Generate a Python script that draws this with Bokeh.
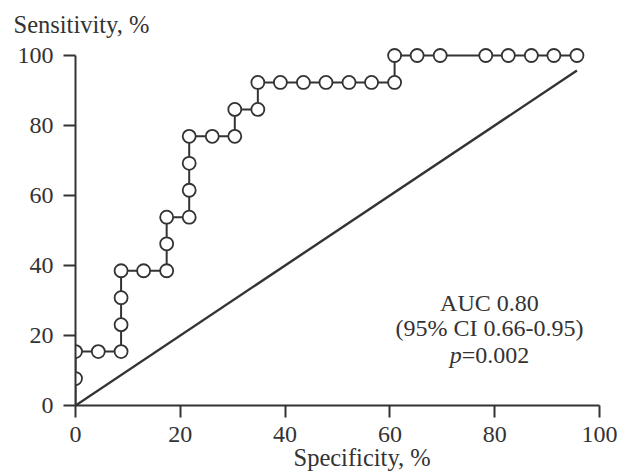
from bokeh.plotting import figure
from bokeh.models import Range1d, FixedTicker, Title
from bokeh.core.properties import value
from bokeh.embed import file_html
from bokeh.resources import INLINE

# ROC curve points (specificity axis, sensitivity)
spec = [0, 0, 0, 4.35, 8.7, 8.7, 8.7, 8.7, 13.0, 17.4, 17.4, 17.4, 21.7, 21.7, 21.7, 21.7,
        26.1, 30.4, 30.4, 34.8, 34.8, 39.1, 43.5, 47.8, 52.2, 56.5, 60.9, 60.9, 65.2, 69.6,
        78.3, 82.6, 87.0, 91.3, 95.7]
sens = [0, 7.7, 15.4, 15.4, 15.4, 23.1, 30.8, 38.5, 38.5, 38.5, 46.2, 53.8, 53.8, 61.5, 69.2, 76.9,
        76.9, 76.9, 84.6, 84.6, 92.3, 92.3, 92.3, 92.3, 92.3, 92.3, 92.3, 100, 100, 100,
        100, 100, 100, 100, 100]
diag_x = [0, 95.7]
diag_y = [0, 95.7]
ticks = [0, 20, 40, 60, 80, 100]
stat_lines = ["AUC 0.80", "(95% CI 0.66-0.95)"]
p_label = "p"
p_value = "=0.002"
x_title = "Specificity, %"
y_title = "Sensitivity, %"

FONT = "Liberation Serif"
INK = "#333333"
TICK = 12          # tick length, px

p = figure(width=618, height=476, x_range=Range1d(0, 103.63), y_range=Range1d(0, 102.571),
           output_backend="svg", toolbar_location=None,
           min_border_left=75, min_border_right=0, min_border_top=46, min_border_bottom=71)
p.outline_line_color = None
p.xgrid.visible = False
p.ygrid.visible = False

p.title.text = y_title
p.title.text_font = FONT
p.title.text_font_size = "24.5px"
p.title.text_font_style = "normal"
p.title.text_color = INK
p.title.align = "left"
p.title.offset = -62
p.title.standoff = 17

for ax in (p.xaxis[0], p.yaxis[0]):
    ax.ticker = FixedTicker(ticks=list(ticks))
    ax.bounds = (0, 100)
    ax.axis_line_width = 2
    ax.axis_line_color = INK
    ax.major_tick_line_width = 2
    ax.major_tick_line_color = INK
    ax.major_tick_out = TICK
    ax.major_tick_in = 0
    ax.minor_tick_line_color = None
    ax.major_label_text_font = FONT
    ax.major_label_text_font_size = "24px"
    ax.major_label_text_color = INK

p.xaxis[0].major_label_standoff = 9
p.yaxis[0].major_label_standoff = 10

xt = Title(text=x_title, text_font=FONT, text_font_size="24.5px", text_font_style="normal",
           text_color=INK, align="left", offset=218, standoff=-5)
p.add_layout(xt, "below")

p.line(diag_x, diag_y, line_color=INK, line_width=2.4)
p.line(spec, sens, line_color=INK, line_width=2)
p.scatter(spec[1:], sens[1:], size=13, marker="circle", fill_color="white",
          line_color=INK, line_width=1.8)

p.text(x=[79, 79], y=[29.4, 22.0], text=stat_lines, text_font=value(FONT),
       text_font_size="24px", text_color=INK, text_align="center", text_baseline="alphabetic")
p.text(x=[79], y=[14.3], text=[p_label], text_font=value(FONT), text_font_style="italic",
       text_font_size="24px", text_color=INK, text_align="right", text_baseline="alphabetic",
       x_offset=-27.75)
p.text(x=[79], y=[14.3], text=[p_value], text_font=value(FONT),
       text_font_size="24px", text_color=INK, text_align="left", text_baseline="alphabetic",
       x_offset=-27.75)

open("out.html", "w").write(file_html(p, INLINE))
